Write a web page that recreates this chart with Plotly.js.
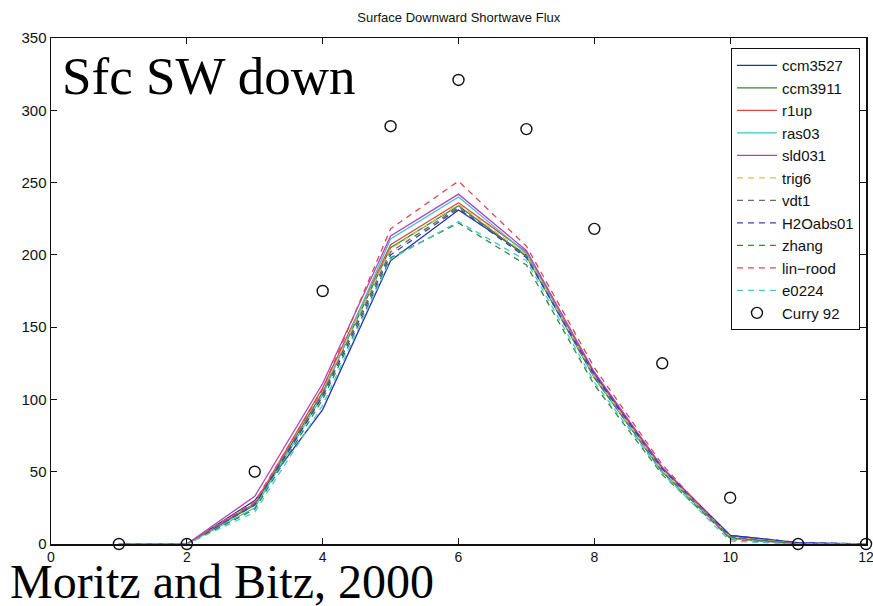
<!DOCTYPE html>
<html>
<head>
<meta charset="utf-8">
<script src="https://cdn.plot.ly/plotly-3.0.1.min.js"></script>
<style>html,body{margin:0;padding:0;background:#fff;}#chart{width:873px;height:606px;}</style>
</head>
<body>
<div id="chart"></div>
<script>
var months = [1, 2, 3, 4, 5, 6, 7, 8, 9, 10, 11, 12];
var ccm3527  = [0, 0, 30,  93, 196, 231, 200, 118, 53, 6, 1, 0];
var ccm3911  = [0, 0, 27, 105, 205, 234, 199, 115, 50, 5, 0, 0];
var r1up     = [0, 0, 28, 108, 207, 236, 202, 117, 52, 5, 0, 0];
var ras03    = [0, 0, 25, 103, 211, 240, 201, 116, 50, 4, 0, 0];
var sld031   = [0, 0, 33, 111, 213, 242, 203, 119, 53, 5, 0, 0];
var trig6    = [0, 0, 29, 106, 204, 235, 200, 116, 51, 5, 0, 0];
var vdt1     = [0, 0, 28, 104, 202, 233, 199, 115, 50, 5, 0, 0];
var H2Oabs01 = [0, 0, 27, 102, 200, 232, 198, 117, 52, 6, 1, 0];
var zhang    = [0, 0, 24, 100, 198, 222, 193, 110, 48, 4, 0, 0];
var linrood  = [0, 0, 29, 107, 218, 251, 206, 122, 55, 3, 0, 0];
var e0224    = [0, 0, 22,  96, 197, 223, 196, 112, 49, 2, 0, 0];
var curry92  = [0, 0, 50, 175, 289, 321, 287, 218, 125, 32, 0, 0];

var seriesNames = ["ccm3527", "ccm3911", "r1up", "ras03", "sld031", "trig6", "vdt1", "H2Oabs01", "zhang", "lin\u2212rood", "e0224"];
var seriesData = [ccm3527, ccm3911, r1up, ras03, sld031, trig6, vdt1, H2Oabs01, zhang, linrood, e0224];
var seriesColors = ["#2633a6", "#2e8b3a", "#e04848", "#3fc4c4", "#b043c4", "#d6c64a", "#6a6a6a", "#3344b8", "#2e8b3a", "#e04848", "#4cc6d6"];
var seriesDash = ["solid", "solid", "solid", "solid", "solid", "6px,5px", "6px,5px", "6px,5px", "6px,5px", "6px,5px", "6px,5px"];

var traces = [];
for (var i = 0; i < seriesNames.length; i++) {
  traces.push({
    x: months, y: seriesData[i], name: seriesNames[i], type: "scatter", mode: "lines",
    line: {color: seriesColors[i], width: 1.3, dash: seriesDash[i]}, cliponaxis: false
  });
}
traces.push({
  x: months, y: curry92, name: "Curry 92", type: "scatter", mode: "markers",
  marker: {symbol: "circle-open", size: 11, color: "#111", line: {width: 1.4, color: "#111"}},
  cliponaxis: false
});

var layout = {
  width: 873, height: 606,
  margin: {l: 51, r: 7, t: 38, b: 62, pad: 0},
  paper_bgcolor: "#fff", plot_bgcolor: "#fff",
  font: {family: "Liberation Sans, Arial, sans-serif", color: "#111"},
  title: {text: "Surface Downward Shortwave Flux", font: {size: 13, family: "Liberation Sans, Arial, sans-serif", color: "#111"}, x: 0.5255, xanchor: "center", y: 0.972, yanchor: "middle"},
  showlegend: true,
  legend: {
    x: 0.9926, xanchor: "right", y: 0.98, yanchor: "top",
    bgcolor: "#fff", bordercolor: "#111", borderwidth: 1,
    font: {size: 15, family: "Liberation Sans, Arial, sans-serif", color: "#111"},
    tracegroupgap: 0, itemwidth: 40
  },
  xaxis: {
    range: [0, 12], dtick: 2, tick0: 0, ticks: "inside", ticklen: 6, tickcolor: "#111",
    showline: true, linecolor: "#111", linewidth: 1.5, mirror: "ticks",
    showgrid: false, zeroline: false, tickfont: {size: 14}, ticklabeloverflow: "allow"
  },
  yaxis: {
    range: [0, 350], dtick: 50, tick0: 0, ticks: "inside", ticklen: 6, tickcolor: "#111",
    showline: true, linecolor: "#111", linewidth: 1.5, mirror: "ticks",
    showgrid: false, zeroline: false, tickfont: {size: 15}
  },
  annotations: [
    {text: "Sfc SW down", xref: "paper", yref: "paper", x: 0.011, y: 0.925, xanchor: "left", yanchor: "middle",
     showarrow: false, font: {family: "Liberation Serif, Times New Roman, serif", size: 53, color: "#000"}},
    {text: "Moritz and Bitz, 2000", xref: "paper", yref: "paper", x: -0.053, y: -0.074, xanchor: "left", yanchor: "middle",
     showarrow: false, font: {family: "Liberation Serif, Times New Roman, serif", size: 48, color: "#000"}}
  ]
};

Plotly.newPlot("chart", traces, layout, {staticPlot: true, displayModeBar: false});
</script>
</body>
</html>
